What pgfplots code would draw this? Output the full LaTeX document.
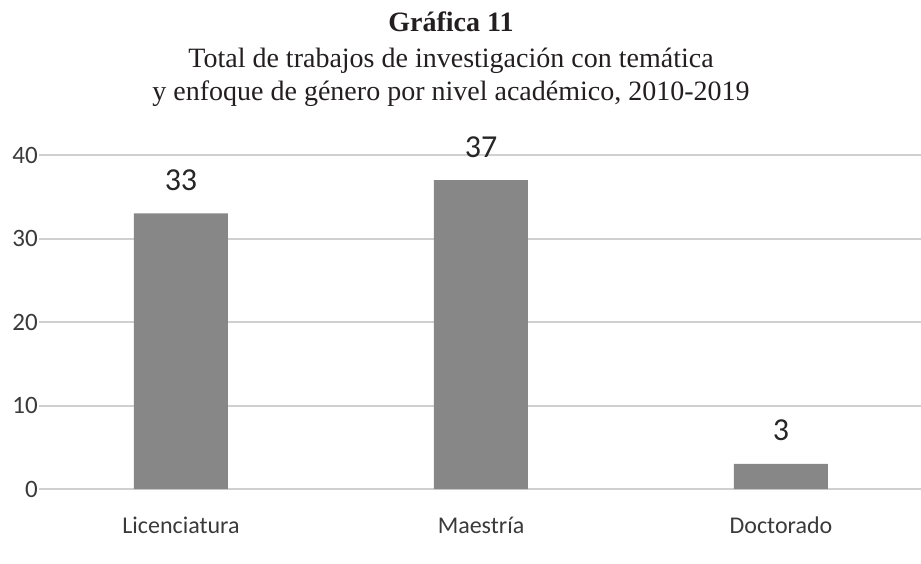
\documentclass[border=0pt]{standalone}
\usepackage{fontspec}
\setmainfont{Liberation Serif}
\newfontfamily\lab{Carlito}
\usepackage{pgfplots}
\pgfplotsset{compat=1.18}
\definecolor{barc}{HTML}{878787}
\definecolor{grd}{HTML}{D0D0D0}
\definecolor{txt}{HTML}{3A3A3A}
\definecolor{ttl}{HTML}{231F20}

\begin{document}
\begin{tikzpicture}[x=1pt,y=1pt]
\path[use as bounding box] (0,0) rectangle (921,563);
% title block
\node[anchor=base, text=ttl, inner sep=0pt, font=\fontsize{28}{34}\selectfont\bfseries] at (451,531) {Gráfica 11};
\node[anchor=base, text=ttl, inner sep=0pt, font=\fontsize{28}{34}\selectfont] at (451,495) {Total de trabajos de investigación con temática};
\node[anchor=base, text=ttl, inner sep=0pt, font=\fontsize{28}{34}\selectfont] at (451,462) {y enfoque de género por nivel académico, 2010-2019};
\begin{axis}[
  at={(33pt,74pt)}, anchor=south west,
  scale only axis, width=888pt, height=334pt,
  xmin=-0.4933, xmax=2.4667, ymin=0, ymax=40,
  enlargelimits=false,
  ytick={0,10,20,30,40},
  xtick={0,1,2}, xticklabels={Licenciatura,Maestría,Doctorado},
  axis line style={draw=none}, major tick length=0pt,
  ymajorgrids, grid style={grd, line width=2pt},
  /pgf/number format/assume math mode=true,
  yticklabel style={font=\lab\fontsize{25}{30}\selectfont, text=txt, anchor=east, fill=white, inner sep=1pt, xshift=6pt},
  xticklabel style={font=\lab\fontsize{24}{29}\selectfont, text=txt, anchor=base, yshift=-44pt},
  ybar, bar width=94pt,
  nodes near coords,
  every node near coord/.append style={font=\lab\fontsize{32}{38}\selectfont, text=black!85, anchor=base, inner sep=0pt, yshift=23pt},
  clip=false]
\addplot[fill=barc, draw=none] coordinates {(0,33) (1,37) (2,3)};
\end{axis}
\end{tikzpicture}
\end{document}
